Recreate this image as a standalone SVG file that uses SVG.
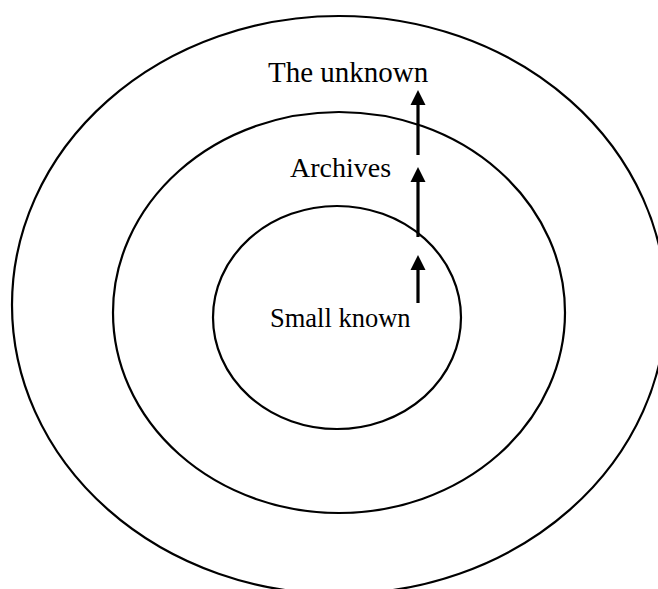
<svg xmlns="http://www.w3.org/2000/svg" width="658" height="589" viewBox="0 0 658 589">
<style>
.ring{fill:none;stroke:#000;stroke-width:2.2}
.lbl{font-family:"Liberation Serif","Times New Roman",serif;font-size:28px;fill:#000}
.shaft{stroke:#000;stroke-width:3.2;fill:none}
.head{fill:#000;stroke:none}
</style>
<rect width="658" height="589" fill="#fff"/>
<g id="outer"><ellipse class="ring" cx="339" cy="305" rx="327" ry="289"/><text class="lbl" x="268" y="82" style="font-size:29px">The unknown</text></g>
<g id="middle"><ellipse class="ring" cx="339" cy="312.5" rx="226" ry="200.5"/><text class="lbl" x="290" y="177">Archives</text></g>
<g id="inner"><ellipse class="ring" cx="337" cy="317.5" rx="124" ry="111.5"/><text class="lbl" x="270" y="327" style="font-size:26.5px">Small known</text></g>
<g id="connectors">
<line class="shaft" x1="418" y1="155" x2="418" y2="104"/><polygon class="head" points="418,90 425.5,105 410.5,105"/>
<line class="shaft" x1="418" y1="237" x2="418" y2="181"/><polygon class="head" points="418,167 425.5,182 410.5,182"/>
<line class="shaft" x1="418" y1="303" x2="418" y2="269"/><polygon class="head" points="418,255 425.5,270 410.5,270"/>
</g>
</svg>
